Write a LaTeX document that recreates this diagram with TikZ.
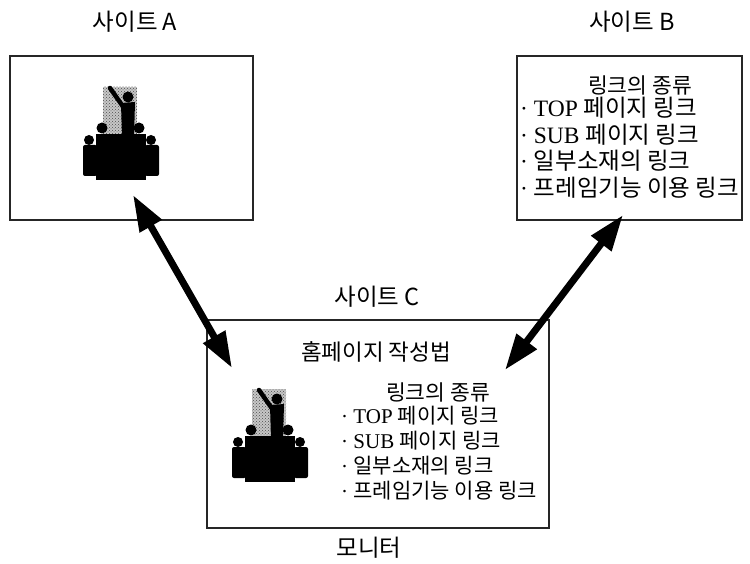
\documentclass[tikz,border=0pt]{standalone}
\usepackage{fontspec}
\setmainfont{Liberation Serif}
\newfontfamily\kr{Noto Sans CJK KR}
\usetikzlibrary{arrows.meta,patterns}

\tikzset{
  site/.style={draw=black!85, line width=1.3pt, minimum width=#1, inner sep=0pt},
  caption/.style={font=\kr\fontsize{23.5}{26}\selectfont, inner sep=0pt},
  heading/.style={font=\kr\fontsize{#1}{26}\selectfont, inner sep=0pt},
  linklist/.style 2 args={font=\fontsize{#1}{#2}\selectfont, align=left, anchor=north west, inner sep=0pt},
  biarrow/.style={line width=7pt, {Triangle[length=36pt,width=24pt]}-{Triangle[length=36pt,width=24pt]}},
  audience/.pic={
    % stippled halo behind the speaker
    \fill[black!22] (-18,-93) rectangle (16,-45);
    \fill[pattern=crosshatch dots, pattern color=black!70] (-18,-93) rectangle (16,-45);
    % speaker
    \fill (7,-83) circle (5.5);
    \draw[line width=4.5pt, line cap=round] (-11,-92) -- (3,-72);
    \fill (0,-77) -- (14,-78) -- (13,-42) -- (1,-42) -- cycle;
    % inner listeners and table
    \fill (-19,-52) circle (5.5);
    \fill (18,-52) circle (5.5);
    \fill (-25,-46) rectangle (25,0);
    % outer listeners
    \fill (-32,-40) circle (5);
    \fill (30,-40) circle (5);
    \fill[rounded corners=2pt] (-38,-35) rectangle (-24,-4);
    \fill[rounded corners=2pt] (24,-35) rectangle (38,-4);
  }
}

\newcommand{\linkitems}{%
  · TOP {\kr 페이지 링크}\\
  · SUB {\kr 페이지 링크}\\
  · {\kr 일부소재의 링크}\\
  · {\kr 프레임기능 이용 링크}}

\begin{document}
\begin{tikzpicture}[x=1pt, y=-1pt]
  \useasboundingbox (0,0) rectangle (750,564);

  % the three sites
  \node[site=243pt, minimum height=164pt] (boxA) at (131.5,138) {};
  \node[site=225pt, minimum height=164pt] (boxB) at (629.5,138) {};
  \node[site=342pt, minimum height=208pt] (boxC) at (378,424) {};

  \node[caption] (labA) at (135,22) {사이트 A};
  \node[caption] (labB) at (632,22) {사이트 B};
  \node[caption] (labC) at (377,297) {사이트 C};
  \node[caption] (labM) at (369,548) {모니터};

  % site A content
  \pic at (121,180) {audience};

  % site B content
  \node[heading=21.5] (titleB) at (640,85) {링크의 종류};
  \node[linklist={23.5}{26.5pt}] (listB) at (520,97) {\linkitems};

  % site C content
  \node[heading=22.5] (homeC) at (376,352) {홈페이지 작성법};
  \node[heading=21.5] (titleC) at (438,392) {링크의 종류};
  \node[linklist={21}{25pt}] (listC) at (341,406) {\linkitems};
  \pic at (270,482) {audience};

  % links between the sites
  \coordinate (aEnd) at (133,195);
  \coordinate (aMon) at (232,368);
  \coordinate (bEnd) at (623,215);
  \coordinate (bMon) at (505,370);
  \draw[biarrow] (aEnd) -- (aMon);
  \draw[biarrow] (bEnd) -- (bMon);
\end{tikzpicture}
\end{document}
